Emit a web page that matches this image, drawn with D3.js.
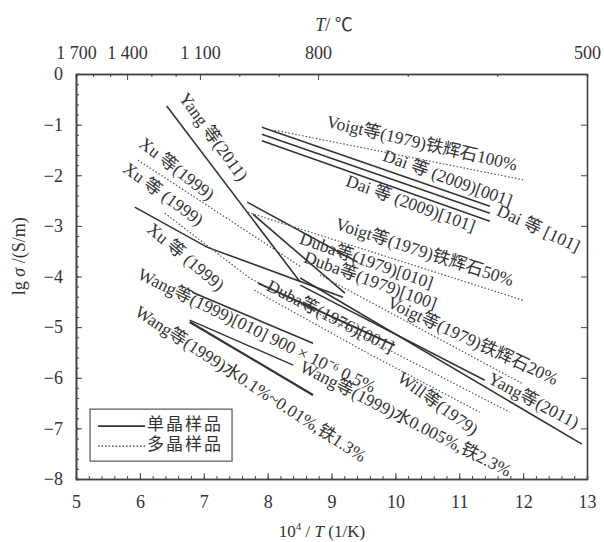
<!DOCTYPE html>
<html>
<head>
<meta charset="utf-8">
<script src="https://cdn.jsdelivr.net/npm/d3@7"></script>
<style>
  body { margin: 0; background: #fff; }
  svg text { font-family: "Liberation Serif", "Noto Sans CJK SC", serif; fill: #333; }
  .axis path, .axis line { stroke: #444; }
</style>
</head>
<body>
<div id="chart"></div>
<script>
const FONT = '"Liberation Serif", "Noto Sans CJK SC", serif';

// ticks
const xTicks = [5, 6, 7, 8, 9, 10, 11, 12, 13];
const yTicks = [0, -1, -2, -3, -4, -5, -6, -7, -8];
const topTemps = [1700, 1400, 1100, 800, 500];
const topLabels = ["1 700", "1 400", "1 100", "800", "500"];
const topPos = [5.0, 5.8, 6.94, 8.79, 13.0];     // where the °C labels sit on the 10^4/T axis
const topMinor = [1600, 1500, 1300, 1200, 1000, 900, 700, 600];

// single crystal (solid) series, [10^4/T, lg sigma]
const yangHT = [[6.42, -0.63], [8.51, -4.11]];
const yangLT = [[8.51, -4.03], [12.92, -7.31]];
const dai001 = [[7.91, -1.05], [11.48, -2.61]];
const dai101a = [[7.91, -1.19], [11.48, -2.75]];
const dai101b = [[7.91, -1.32], [11.48, -2.91]];
const duba010 = [[7.68, -2.53], [9.41, -3.72]];
const duba100 = [[7.77, -2.77], [9.21, -4.33]];
const voigt20 = [[8.51, -4.17], [11.40, -6.05]];
const duba1976 = [[7.85, -4.13], [9.99, -5.36]];
const xuSingle = [[5.92, -2.63], [7.05, -3.42], [9.18, -4.41]];
const wang010 = [[6.82, -4.31], [8.71, -5.32]];
const wangA = [[6.78, -4.90], [8.71, -6.34]];
const wangB = [[6.78, -4.86], [8.40, -5.75]];

// polycrystal (dotted) series
const voigt100d = [[8.11, -1.11], [12.0, -2.09]];
const voigt50d = [[7.69, -2.73], [12.0, -4.47]];
const voigt20d = [[8.82, -3.97], [11.98, -6.11]];
const xuPoly1 = [[5.97, -1.70], [8.51, -3.80]];
const xuPoly2 = [[6.39, -2.75], [7.73, -4.04], [11.79, -6.68]];
const willPoly = [[7.79, -4.27], [9.56, -5.51], [11.32, -6.68]];

// [series, stroke width]
const solidSeries = [[yangHT, 1.6], [yangLT, 1.6], [dai001, 1.6], [dai101a, 1.6], [dai101b, 1.6],
                     [duba010, 1.6], [duba100, 1.6], [voigt20, 1.6], [duba1976, 2.1],
                     [xuSingle, 1.6], [wang010, 1.6], [wangA, 2.2], [wangB, 1.4]];
const dottedSeries = [voigt100d, voigt50d, voigt20d, xuPoly1, xuPoly2, willPoly];

// annotations: text, centre in data units, angle
const notes = [
  ["Yang 等(2011)", 7.13, -1.26, 54],
  ["Voigt等(1979)铁辉石100%", 10.41, -1.40, 13],
  ["Dai 等 (2009)[001]", 10.81, -2.09, 20],
  ["Dai 等 (2009)[101]", 10.23, -2.59, 20],
  ["Dai 等 [101]", 12.23, -3.08, 25],
  ["Voigt等(1979)铁辉石50%", 10.45, -3.55, 18],
  ["Duba等(1979)[010]", 9.54, -3.72, 19],
  ["Duba等(1979)[100]", 9.60, -4.11, 20],
  ["Voigt等(1979)铁辉石20%", 11.2, -5.30, 25],
  ["Yang等(2011)", 12.15, -6.48, 28],
  ["Duba等(1976)[001]", 8.97, -4.82, 27],
  ["Will等(1979)", 10.65, -6.54, 36],
  ["Xu 等(1999)", 6.56, -1.90, 38],
  ["Xu 等 (1999)", 6.35, -2.40, 36],
  ["Xu 等 (1999)", 6.70, -3.64, 40],
  ["Wang等(1999)[010] 900 × 10⁻⁶ 0.5%", 7.82, -5.10, 26],
  ["Wang等(1999)水0.1%~0.01%,铁1.3%", 7.72, -6.15, 33],
  ["Wang等(1999)水0.005%,铁2.3%", 10.15, -6.84, 27]
];

const margin = {top: 74, right: 17, bottom: 63, left: 76},
      width = 604 - margin.left - margin.right,
      height = 542 - margin.top - margin.bottom;

const svg = d3.select("#chart").append("svg")
    .attr("width", 604)
    .attr("height", 542)
  .append("g")
    .attr("transform", `translate(${margin.left},${margin.top})`);

const x = d3.scaleLinear().domain([5, 13]).range([0, width]);
const y = d3.scaleLinear().domain([-8, 0]).range([height, 0]);
const tempToX = d3.scaleLinear().domain(topTemps).range(topPos);

const minorX = d3.range(5, 13.001, 0.2);
const minorY = d3.range(-8, 0.001, 0.2);

// minor ticks first
svg.append("g").attr("class", "axis")
    .attr("transform", `translate(0,${height})`)
    .call(d3.axisBottom(x).tickValues(minorX).tickSize(-3).tickFormat(""));
svg.append("g").attr("class", "axis")
    .call(d3.axisLeft(y).tickValues(minorY).tickSize(-3).tickFormat(""));
svg.append("g").attr("class", "axis")
    .call(d3.axisTop(x).tickValues(topMinor.map(tempToX)).tickSize(-3).tickFormat(""));

// major axes
const bottomAxis = svg.append("g").attr("class", "axis")
    .attr("transform", `translate(0,${height})`)
    .call(d3.axisBottom(x).tickValues(xTicks).tickSize(-6).tickSizeOuter(0).tickPadding(16));

const leftAxis = svg.append("g").attr("class", "axis")
    .call(d3.axisLeft(y).tickValues(yTicks).tickSize(-6).tickSizeOuter(0).tickPadding(13));

const topAxis = svg.append("g").attr("class", "axis")
    .call(d3.axisTop(x).tickValues(topPos).tickSize(-6).tickSizeOuter(0).tickPadding(15)
      .tickFormat((d, i) => topLabels[i]));

svg.append("g").attr("class", "axis")
    .attr("transform", `translate(${width},0)`)
    .call(d3.axisLeft(y).tickValues(yTicks).tickSize(6).tickSizeOuter(0).tickFormat(""));

[bottomAxis, leftAxis, topAxis].forEach(a => a.attr("font-family", FONT)
    .selectAll("text")
      .style("font-family", FONT)
      .style("font-size", "18px")
      .style("fill", "#333"));

svg.selectAll(".axis path").style("stroke-width", 1.6);

// axis titles
svg.append("text")
    .attr("x", 322 - margin.left).attr("y", height + 58)
    .attr("text-anchor", "middle")
    .style("font-size", "17px")
    .html('10<tspan dy="-7" font-size="11">4</tspan><tspan dy="7"> / </tspan><tspan font-style="italic">T</tspan> (1/K)');

svg.append("text")
    .attr("x", 334 - margin.left).attr("y", -43)
    .attr("text-anchor", "middle")
    .style("font-size", "18px")
    .html('<tspan font-style="italic">T</tspan>/ ℃');

svg.append("text")
    .attr("transform", `translate(-51,${y(-3.6)}) rotate(-90)`)
    .attr("text-anchor", "middle")
    .style("font-size", "18px")
    .html('lg <tspan font-style="italic">σ</tspan> /(S/m)');

// lines
const line = d3.line().x(d => x(d[0])).y(d => y(d[1]));

svg.selectAll(".solid")
    .data(solidSeries)
    .enter().append("path")
    .attr("class", "solid")
    .attr("d", d => line(d[0]))
    .attr("fill", "none")
    .attr("stroke", "#333")
    .attr("stroke-width", d => d[1]);

svg.selectAll(".dotted")
    .data(dottedSeries)
    .enter().append("path")
    .attr("class", "dotted")
    .attr("d", line)
    .attr("fill", "none")
    .attr("stroke", "#555")
    .attr("stroke-width", 1.2)
    .attr("stroke-dasharray", "1.5,2");

// annotations
svg.selectAll(".note")
    .data(notes)
    .enter().append("text")
    .attr("class", "note")
    .attr("transform", d => `translate(${x(d[1])},${y(d[2])}) rotate(${d[3]})`)
    .attr("text-anchor", "middle")
    .attr("dominant-baseline", "middle")
    .style("font-size", "17.5px")
    .text(d => d[0]);

// legend
const legend = svg.append("g").attr("transform", `translate(${x(5.22)},${y(-6.62)})`);
legend.append("rect")
    .attr("width", 142).attr("height", 52)
    .attr("fill", "#fff").attr("stroke", "#555").attr("stroke-width", 1.2);
const legendItems = [["单晶样品", null], ["多晶样品", "1.5,2"]];
legendItems.forEach((d, i) => {
  const gy = 17 + i * 20;
  legend.append("line")
      .attr("x1", 8).attr("x2", 55).attr("y1", gy).attr("y2", gy)
      .attr("stroke", "#333")
      .attr("stroke-width", d[1] ? 1.2 : 1.6)
      .attr("stroke-dasharray", d[1]);
  legend.append("text")
      .attr("x", 57).attr("y", gy)
      .attr("dominant-baseline", "middle")
      .style("font-size", "17px")
      .style("letter-spacing", "2px")
      .text(d[0]);
});
</script>
</body>
</html>
